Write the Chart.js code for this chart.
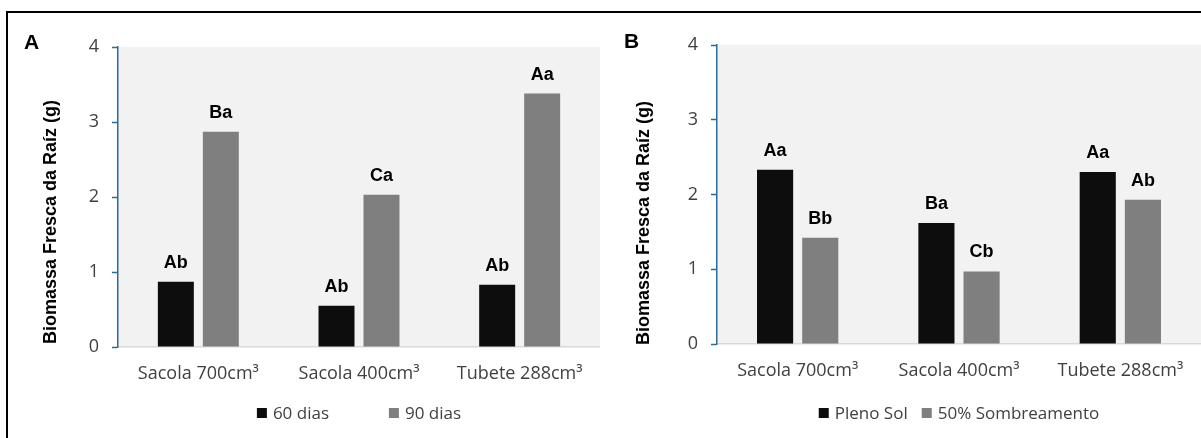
<!DOCTYPE html>
<html>
<head>
<meta charset="utf-8">
<script src="https://cdn.jsdelivr.net/npm/chart.js@4.4.1/dist/chart.umd.min.js"></script>
<style>
  html, body { margin: 0; padding: 0; background: #fff; }
  body { width: 1201px; height: 438px; position: relative; overflow: hidden; font-family: "Open Sans", sans-serif; }
  .frame { position: absolute; left: 6px; top: 11px; width: 1400px; height: 600px; border-left: 2px solid #000; border-top: 2px solid #000; }
  .panel { position: absolute; top: 0; height: 438px; }
  .letter { position: absolute; font: bold 21px "Liberation Sans", Arial, sans-serif; line-height: 21px; color: #000; }
  .ytitle { position: absolute; width: 300px; height: 20px; margin-left: -150px; margin-top: -10px; text-align: center;
            transform: rotate(-90deg); font: bold 18px "Liberation Sans", Arial, sans-serif; line-height: 20px; color: #000; white-space: nowrap; }
  .legend { position: absolute; top: 402px; display: flex; align-items: center; transform: translateX(-50%);
            font-size: 17px; line-height: 22px; color: #404040; white-space: nowrap; }
  .legend .item { display: flex; align-items: center; }
  .legend .box { width: 10px; height: 10px; margin-right: 6px; }
</style>
</head>
<body>
<div class="frame"></div>
<div class="panel" style="left:0;width:600px"><canvas id="chartA" width="600" height="438"></canvas></div>
<div class="panel" style="left:600px;width:601px"><canvas id="chartB" width="601" height="438"></canvas></div>
<div class="letter" style="left:24px;top:31px">A</div>
<div class="letter" style="left:624px;top:30px">B</div>
<div class="ytitle" id="titleA" style="left:50px;top:222px"></div>
<div class="ytitle" id="titleB" style="left:643px;top:223px"></div>
<div class="legend" id="legendA"></div>
<div class="legend" id="legendB"></div>
<script>
const categories = ['Sacola 700cm³', 'Sacola 400cm³', 'Tubete 288cm³'];
const yTicks = [0, 1, 2, 3, 4];
const yTitle = 'Biomassa Fresca da Raíz (g)';

// panel A - idade
const namesA = ['60 dias', '90 dias'];
const dias60 = [0.87, 0.55, 0.83];
const dias90 = [2.87, 2.03, 3.38];
const letters60 = ['Ab', 'Ab', 'Ab'];
const letters90 = ['Ba', 'Ca', 'Aa'];

// panel B - luminosidade
const namesB = ['Pleno Sol', '50% Sombreamento'];
const plenoSol = [2.33, 1.62, 2.30];
const sombreamento = [1.42, 0.97, 1.93];
const lettersPleno = ['Aa', 'Ba', 'Aa'];
const lettersSombra = ['Bb', 'Cb', 'Ab'];

const colors = ['#0d0d0d', '#7f7f7f'];
const axisBlue = '#2a6a96';
const textGrey = '#404040';

const plotBackground = {
  id: 'plotBackground',
  beforeDraw(chart) {
    const { ctx, chartArea: a } = chart;
    ctx.save();
    ctx.fillStyle = '#f2f2f2';
    ctx.fillRect(a.left, a.top, a.right - a.left, a.bottom - a.top);
    ctx.restore();
  }
};

const barLetters = {
  id: 'barLetters',
  afterDatasetsDraw(chart) {
    const ctx = chart.ctx;
    ctx.save();
    ctx.font = 'bold 18px "Liberation Sans", Arial, sans-serif';
    ctx.fillStyle = '#000';
    ctx.textAlign = 'center';
    ctx.textBaseline = 'alphabetic';
    chart.data.datasets.forEach((ds, i) => {
      chart.getDatasetMeta(i).data.forEach((bar, j) => {
        ctx.fillText(ds.letters[j], bar.x, bar.y - 14);
      });
    });
    ctx.restore();
  }
};

function makeChart(id, names, seriesList, letterList, yWidth, top, xHeight) {
  return new Chart(document.getElementById(id), {
    type: 'bar',
    data: {
      labels: categories,
      datasets: seriesList.map((s, i) => ({
        label: names[i],
        data: s,
        letters: letterList[i],
        backgroundColor: colors[i],
        categoryPercentage: 0.56,
        barPercentage: 0.8
      }))
    },
    options: {
      responsive: false,
      animation: false,
      layout: { padding: { top: top, left: 0, right: 0, bottom: 0 } },
      plugins: { legend: { display: false }, tooltip: { enabled: false } },
      scales: {
        x: {
          grid: { display: false, drawTicks: false },
          border: { display: true, color: '#d9d9d9', width: 1.5 },
          ticks: { color: textGrey, padding: 16, font: { family: '"Open Sans"', size: 18 }, maxRotation: 0 },
          afterFit(scale) { scale.height = xHeight; }
        },
        y: {
          min: yTicks[0],
          max: yTicks[yTicks.length - 1],
          ticks: { stepSize: 1, color: textGrey, padding: 13, font: { family: '"Open Sans"', size: 18 } },
          grid: { drawOnChartArea: false, drawTicks: true, tickLength: 6, tickColor: axisBlue, tickWidth: 1.5 },
          border: { display: true, color: axisBlue, width: 1.5 },
          afterFit(scale) { scale.width = yWidth; }
        }
      }
    },
    plugins: [plotBackground, barLetters]
  });
}

const chartA = makeChart('chartA', namesA, [dias60, dias90], [letters60, letters90], 118, 47, 91);
const chartB = makeChart('chartB', namesB, [plenoSol, sombreamento], [lettersPleno, lettersSombra], 117, 45, 94);

function buildLegend(el, chart, offsetX, gap) {
  chart.data.datasets.forEach((ds, i) => {
    const item = document.createElement('span');
    item.className = 'item';
    if (i > 0) item.style.marginLeft = gap + 'px';
    const box = document.createElement('span');
    box.className = 'box';
    box.style.background = ds.backgroundColor;
    const txt = document.createElement('span');
    txt.textContent = ds.label;
    item.appendChild(box);
    item.appendChild(txt);
    el.appendChild(item);
  });
  const a = chart.chartArea;
  el.style.left = (offsetX + (a.left + a.right) / 2) + 'px';
}

document.getElementById('titleA').textContent = yTitle;
document.getElementById('titleB').textContent = yTitle;
buildLegend(document.getElementById('legendA'), chartA, 0, 60);
buildLegend(document.getElementById('legendB'), chartB, 600, 14);
</script>
</body>
</html>
